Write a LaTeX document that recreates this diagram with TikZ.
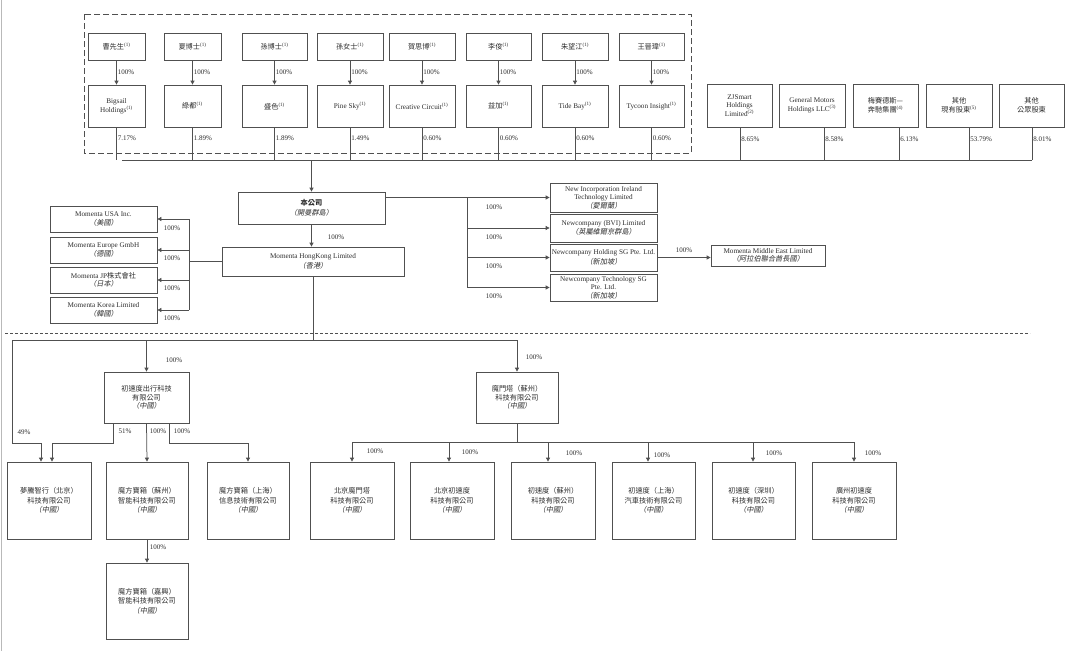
\documentclass[tikz,border=0pt]{standalone}
\usepackage{fontspec}
\setmainfont{Liberation Serif}
\newfontfamily\cjk{Noto Sans CJK TC}[AutoFakeSlant=0.2]
\usetikzlibrary{arrows.meta}
\definecolor{linec}{HTML}{505050}
\definecolor{txtc}{HTML}{2E2E2E}
\newcommand\zh[1]{{\cjk #1}}
\newcommand\zhi[1]{{\cjk\itshape #1}}
\newcommand\nt[1]{\textsuperscript{(#1)}}
\newcommand\mybox[7]{\node[box,#2,minimum width={(#5)-(#3)},minimum height={(#6)-(#4)}] (#1) at ({((#3)+(#5))/2},{((#4)+(#6))/2}) {#7};}
\begin{document}
\begin{tikzpicture}[x=1pt,y=-1pt,
  box/.style={draw=linec, line width=0.75pt, align=center, inner sep=1pt, text=txtc, font=\fontsize{7.2}{8.6}\selectfont},
  ln/.style={draw=linec, line width=0.75pt},
  arr/.style={ln, -{Triangle[length=4pt,width=4pt]}},
  pct/.style={font=\fontsize{7}{8}\selectfont, text=txtc, inner sep=1pt}]
\useasboundingbox (0,0) rectangle (1080,651);
\fill[white] (0,0) rectangle (1080,651);
\draw[gray!55, line width=1.2pt] (1.5,0) -- (1.5,651);

% dashed group frame
\draw[linec, line width=0.9pt, dash pattern=on 6pt off 3pt] (84,14) rectangle (691,153);

% persons
\mybox{p1}{}{88}{33}{145}{60}{\zh{曹先生}\nt{1}}
\mybox{p2}{}{164}{33}{221}{60}{\zh{夏博士}\nt{1}}
\mybox{p3}{}{242}{33}{307}{60}{\zh{孫博士}\nt{1}}
\mybox{p4}{}{317}{33}{383}{60}{\zh{孫女士}\nt{1}}
\mybox{p5}{}{389}{33}{455}{60}{\zh{賀思博}\nt{1}}
\mybox{p6}{}{466}{33}{531}{60}{\zh{李俊}\nt{1}}
\mybox{p7}{}{542}{33}{608}{60}{\zh{朱望江}\nt{1}}
\mybox{p8}{}{619}{33}{684}{60}{\zh{王晉瑋}\nt{1}}

% holdings
\mybox{h1}{}{88}{85}{145}{127}{Bigsail\\Holdings\nt{1}}
\mybox{h2}{}{164}{85}{221}{127}{\zh{綠都}\nt{1}}
\mybox{h3}{}{242}{85}{307}{127}{\zh{盛色}\nt{1}}
\mybox{h4}{}{317}{85}{383}{127}{Pine Sky\nt{1}}
\mybox{h5}{}{389}{85}{455}{127}{Creative Circuit\nt{1}}
\mybox{h6}{}{466}{85}{531}{127}{\zh{益加}\nt{1}}
\mybox{h7}{}{542}{85}{608}{127}{Tide Bay\nt{1}}
\mybox{h8}{}{619}{85}{684}{127}{Tycoon Insight\nt{1}}

\coordinate (busL) at (122,160);
\foreach \i in {1,...,8} {
  \draw[arr] (p\i) -- (h\i) node[pct,right,midway]{100\%};
}
\foreach \i/\v in {1/7.17,2/1.89,3/1.89,4/1.49,5/0.60,6/0.60,7/0.60,8/0.60} {
  \draw[ln] (h\i.south) -- (h\i.south |- busL) node[pct,right,pos=0.33]{\v\%};
}

% other shareholders
\mybox{r1}{}{707}{84}{772}{127}{ZJSmart\\Holdings\\Limited\nt{2}}
\mybox{r2}{}{779}{84}{845}{127}{General Motors\\Holdings LLC\nt{3}}
\mybox{r3}{}{853}{84}{918}{127}{\zh{梅賽德斯—}\\\zh{奔馳集團}\nt{4}}
\mybox{r4}{}{926}{84}{992}{127}{\zh{其他}\\\zh{現有股東}\nt{5}}
\mybox{r5}{}{999}{84}{1064}{127}{\zh{其他}\\\zh{公眾股東}}
\foreach \i/\x/\v in {1/740/8.65,2/824/8.58,3/899/6.13,4/969/53.79,5/1032/8.01} {
  \coordinate (v\i) at (\x,160);
  \draw[ln] (v\i |- r\i.south) -- (v\i) node[pct,right,pos=0.36]{\v\%};
}
\draw[ln] (busL) -- (v5);

% company
\mybox{co}{}{238}{192}{385}{224}{\zh{\bfseries 本公司}\\[1pt]\zhi{（開曼群島）}}
\draw[arr] (co.north |- busL) -- (co.north);

\mybox{hk}{}{222}{247}{404}{276}{Momenta HongKong Limited\\[2pt]\zhi{（香港）}}
\draw[arr] (co.south) -- (co.south |- hk.north);
\node[pct] (lhk) at (336,237) {100\%};

% left overseas subsidiaries
\mybox{us}{}{50}{206}{157}{232}{Momenta USA Inc.\\\zhi{（美國）}}
\mybox{eu}{}{50}{237}{157}{263}{Momenta Europe GmbH\\\zhi{（德國）}}
\mybox{jp}{}{50}{267}{157}{293}{Momenta JP\zh{株式會社}\\\zhi{（日本）}}
\mybox{kr}{}{50}{297}{157}{323}{Momenta Korea Limited\\\zhi{（韓國）}}
\coordinate (lt) at (189,219);
\coordinate (lb) at (189,310);
\draw[ln] (hk.west) -- (hk.west -| lt);
\draw[ln] (lt) -- (lb);
\foreach \n in {us,eu,jp,kr} {
  \draw[arr] (\n.east -| lt) -- (\n.east);
}
\node[pct] (lus) at (172,228) {100\%};
\node[pct] (leu) at (172,258) {100\%};
\node[pct] (ljp) at (172,288) {100\%};
\node[pct] (lkr) at (172,318) {100\%};

% right overseas subsidiaries
\mybox{ie}{}{550}{183}{657}{212}{New Incorporation Ireland\\Technology Limited\\\zhi{（愛爾蘭）}}
\mybox{bvi}{}{550}{214}{657}{242}{Newcompany (BVI) Limited\\[1pt]\zhi{（英屬維爾京群島）}}
\mybox{hsg}{inner sep=0pt}{550}{244}{657}{271}{Newcompany Holding SG Pte. Ltd.\\[1pt]\zhi{（新加坡）}}
\mybox{tsg}{}{550}{274}{657}{301}{Newcompany Technology SG\\Pte. Ltd.\\\zhi{（新加坡）}}
\draw[arr] (co.east |- ie.west) -- (ie.west);
\coordinate (tk) at (467,197.5);
\foreach \n in {bvi,hsg,tsg} {
  \draw[arr] (tk) |- (\n.west);
}
\node[pct] (lie) at (494,207) {100\%};
\node[pct] (lbv) at (494,237) {100\%};
\node[pct] (lhs) at (494,266) {100\%};
\node[pct] (lts) at (494,296) {100\%};

\mybox{me}{}{711}{245}{825}{266}{Momenta Middle East Limited\\\zhi{（阿拉伯聯合酋長國）}}
\draw[arr] (hsg.east) -- (hsg.east -| me.west);
\node[pct] (lme) at (684,250) {100\%};

% divider
\draw[linec, line width=0.6pt, dash pattern=on 3pt off 2pt] (5,333) -- (1030,333);

% onshore
\coordinate (b2L) at (12,340);
\coordinate (b2R) at (517,340);
\draw[ln] (hk.south) -- (hk.south |- b2L);
\draw[ln] (b2L) -- (b2R);

\mybox{cs}{}{104}{372}{189}{423}{\zh{初速度出行科技}\\\zh{有限公司}\\\zhi{（中國）}}
\mybox{md}{}{476}{372}{558}{423}{\zh{魔門塔（蘇州）}\\\zh{科技有限公司}\\\zhi{（中國）}}
\draw[arr] (cs.north |- b2L) -- (cs.north);
\draw[arr] (b2R) -- (md.north);
\node[pct] (lcs) at (174,360) {100\%};
\node[pct] (lmd) at (534,357) {100\%};

\mybox{dt}{}{7}{462}{91}{539}{\zh{夢騰智行（北京）}\\[1pt]\zh{科技有限公司}\\[1pt]\zhi{（中國）}}
\mybox{mb}{}{106}{462}{188}{539}{\zh{魔方寶箱（蘇州）}\\[1pt]\zh{智能科技有限公司}\\[1pt]\zhi{（中國）}}
\mybox{ms}{}{207}{462}{289}{539}{\zh{魔方寶箱（上海）}\\[1pt]\zh{信息技術有限公司}\\[1pt]\zhi{（中國）}}
\mybox{jx}{}{106}{563}{188}{639}{\zh{魔方寶箱（嘉興）}\\[1pt]\zh{智能科技有限公司}\\[1pt]\zhi{（中國）}}

\coordinate (c49a) at (12,443);
\coordinate (c49b) at (41,443);
\draw[arr] (b2L) -- (c49a) -- (c49b) -- (c49b |- dt.north);
\coordinate (c51a) at (113,443);
\coordinate (c51b) at (52,443);
\draw[arr] (c51a |- cs.south) -- (c51a) -- (c51b) -- (c51b |- dt.north);
\draw[arr] (cs.south) -- (mb.north);
\coordinate (c3a) at (169,443);
\coordinate (c3b) at (248,443);
\draw[arr] (c3a |- cs.south) -- (c3a) -- (c3b) -- (c3b |- ms.north);
\draw[arr] (mb.south) -- (jx.north);
\node[pct] (l49) at (24,432) {49\%};
\node[pct] (l51) at (125,431) {51\%};
\node[pct] (lmb) at (158,431) {100\%};
\node[pct] (lms) at (182,431) {100\%};
\node[pct] (ljx) at (158,547) {100\%};

\mybox{bj1}{}{310}{462}{394}{539}{\zh{北京魔門塔}\\[1pt]\zh{科技有限公司}\\[1pt]\zhi{（中國）}}
\mybox{bj2}{}{410}{462}{494}{539}{\zh{北京初速度}\\[1pt]\zh{科技有限公司}\\[1pt]\zhi{（中國）}}
\mybox{sz}{}{511}{462}{595}{539}{\zh{初速度（蘇州）}\\[1pt]\zh{科技有限公司}\\[1pt]\zhi{（中國）}}
\mybox{sh}{}{612}{462}{695}{539}{\zh{初速度（上海）}\\[1pt]\zh{汽車技術有限公司}\\[1pt]\zhi{（中國）}}
\mybox{szn}{}{712}{462}{795}{539}{\zh{初速度（深圳）}\\[1pt]\zh{科技有限公司}\\[1pt]\zhi{（中國）}}
\mybox{gz}{}{812}{462}{896}{539}{\zh{廣州初速度}\\[1pt]\zh{科技有限公司}\\[1pt]\zhi{（中國）}}

\coordinate (mbL) at (352,442);
\coordinate (mbR) at (854,442);
\draw[ln] (md.south) -- (md.south |- mbL);
\draw[ln] (mbL) -- (mbR);
\foreach \n/\x in {bj1/352,bj2/449,sz/548,sh/648,szn/753,gz/854} {
  \coordinate (a\n) at (\x,442);
  \draw[arr] (a\n) -- (a\n |- \n.north);
}
\node[pct] (lb1) at (375,451) {100\%};
\node[pct] (lb2) at (470,452) {100\%};
\node[pct] (lb3) at (574,453) {100\%};
\node[pct] (lb4) at (662,455) {100\%};
\node[pct] (lb5) at (774,453) {100\%};
\node[pct] (lb6) at (873,453) {100\%};
\end{tikzpicture}
\end{document}
